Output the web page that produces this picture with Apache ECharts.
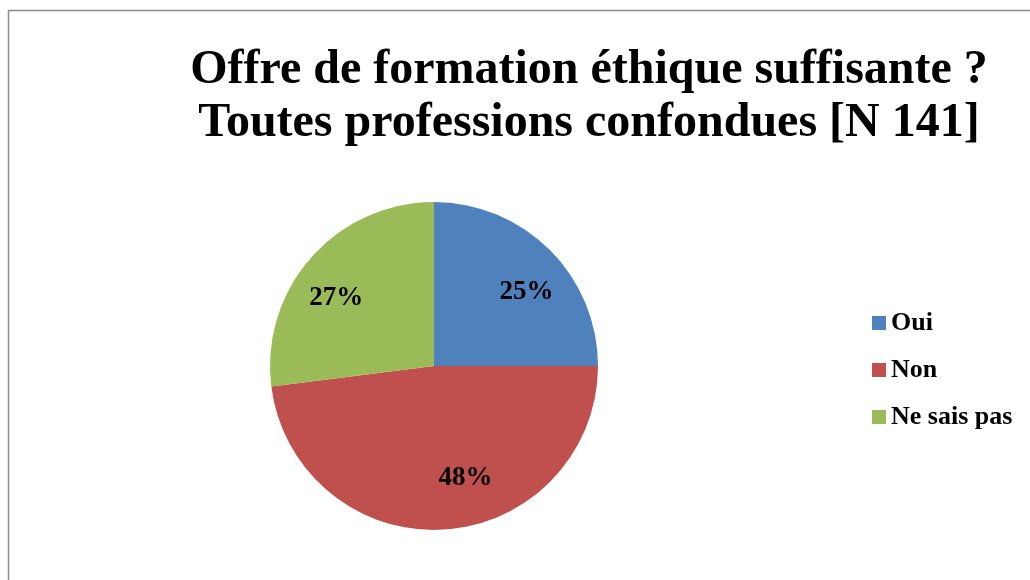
<!DOCTYPE html>
<html><head><meta charset="utf-8">
<script src="https://cdn.jsdelivr.net/npm/echarts@6/dist/echarts.min.js"></script>
<style>html,body{margin:0;padding:0;background:#fff}#c{width:1030px;height:580px}</style>
</head><body><div id="c"></div>
<script>
const categories = ['Oui', 'Non', 'Ne sais pas'];
const values = [25, 48, 27];
const colors = ['#4F81BD', '#C0504D', '#9BBB59'];
const titleLines = ['Offre de formation éthique suffisante ?', 'Toutes professions confondues [N 141]'];

const font = '"Liberation Serif", "Times New Roman", serif';
// small label nudges (layout only), mimicking the source's label placement
const labelNudge = [[7, 12], [24, -9], [-7, 12]];
const chart = echarts.init(document.getElementById('c'));
chart.setOption({
  animation: false,
  graphic: [{
    type: 'rect', silent: true,
    shape: { x: 8.5, y: 10.5, width: 1100, height: 700 },
    style: { fill: null, stroke: '#8c8c8c', lineWidth: 1.5 }
  }],
  title: {
    text: titleLines.join('\n'),
    left: 584, top: 39, textAlign: 'center',
    textStyle: { fontFamily: font, fontWeight: 'bold', fontSize: 48, lineHeight: 53, color: '#000' }
  },
  legend: {
    orient: 'vertical', left: 867, top: 305, itemGap: 21,
    itemWidth: 14, itemHeight: 14, icon: 'rect',
    data: categories,
    textStyle: { fontFamily: font, fontWeight: 'bold', fontSize: 26, color: '#000' }
  },
  series: [{
    type: 'pie', center: [434, 366], radius: [0, 164],
    startAngle: 90, clockwise: true, silent: true,
    data: categories.map((c, i) => ({ name: c, value: values[i], itemStyle: { color: colors[i] } })),
    label: { show: false }, labelLine: { show: false }
  }, {
    type: 'pie', center: [434, 366], radius: [0, 236],
    startAngle: 90, clockwise: true, silent: true,
    data: categories.map((c, i) => ({ name: c, value: values[i], itemStyle: { color: 'rgba(0,0,0,0)' },
      label: { offset: labelNudge[i] } })),
    legendHoverLink: false,
    label: { show: true, position: 'inside', formatter: p => p.value + '%', fontFamily: font, fontWeight: 'bold', fontSize: 27, color: '#000' },
    labelLine: { show: false }
  }]
});
</script></body></html>
